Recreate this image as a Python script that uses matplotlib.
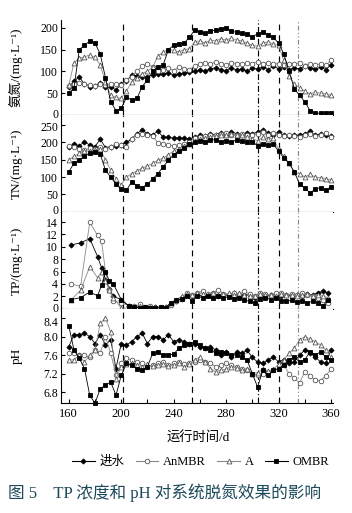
import matplotlib.pyplot as plt
from matplotlib.ticker import MultipleLocator
from matplotlib.lines import Line2D
from matplotlib.transforms import ScaledTranslation

plt.rcParams['font.family'] = ['Liberation Serif', 'Noto Sans CJK SC', 'DejaVu Sans']

# sampling days (every 4 d) for NH4-N, TN and pH
days = list(range(160, 361, 4))

# ammonia nitrogen, mg/L
nh4_inf = [65, 77, 88, 70, 65, 66, 73, 65, 63, 58, 70, 78, 92, 90, 88, 88, 92, 95, 94, 96,
           92, 95, 96, 98, 100, 104, 100, 106, 108, 104, 102, 108, 103, 106, 100, 108, 105, 110, 104, 112,
           106, 110, 104, 108, 106, 112, 108, 105, 110, 104, 115]
nh4_an = [67, 72, 74, 70, 68, 66, 70, 68, 72, 70, 68, 80, 88, 100, 112, 118, 110, 100, 104, 108,
          102, 110, 106, 104, 112, 118, 120, 116, 122, 118, 115, 120, 118, 116, 120, 118, 122, 118, 120, 117,
          118, 114, 118, 116, 120, 112, 118, 115, 117, 114, 125]
nh4_a = [68, 120, 130, 133, 138, 132, 115, 75, 45, 40, 38, 55, 75, 85, 95, 100, 110, 135, 145, 150,
         148, 145, 150, 152, 168, 170, 165, 172, 170, 175, 172, 176, 172, 170, 165, 160, 158, 165, 168, 162,
         160, 125, 90, 72, 62, 55, 48, 52, 50, 48, 45]
nh4_om = [50, 62, 150, 160, 170, 165, 140, 85, 30, 10, 15, 40, 35, 38, 65, 80, 100, 110, 115, 150,
          160, 163, 165, 178, 195, 190, 188, 192, 195, 197, 200, 192, 190, 188, 185, 180, 186, 190, 184, 178,
          165, 140, 100, 60, 45, 30, 10, 4, 4, 5, 4]

# total nitrogen, mg/L
tn_inf = [187, 195, 190, 202, 192, 188, 209, 185, 188, 190, 192, 200, 210, 225, 236, 225, 222, 232, 215, 215,
          212, 213, 212, 210, 215, 220, 218, 225, 222, 228, 220, 230, 225, 222, 228, 225, 230, 235, 228, 222,
          230, 220, 218, 222, 220, 225, 232, 220, 225, 222, 218]
tn_an = [190, 186, 182, 178, 183, 180, 186, 182, 188, 196, 192, 188, 210, 222, 225, 222, 218, 198, 195, 192,
         190, 192, 196, 202, 212, 215, 218, 222, 220, 225, 228, 222, 220, 225, 220, 222, 225, 230, 222, 228,
         220, 218, 222, 218, 215, 222, 225, 218, 220, 228, 215]
tn_a = [150, 160, 168, 175, 175, 178, 180, 150, 120, 95, 78, 100, 110, 118, 126, 132, 140, 148, 155, 165,
        175, 182, 190, 196, 205, 210, 212, 215, 218, 222, 220, 225, 222, 220, 215, 210, 205, 215, 210, 212,
        180, 160, 140, 115, 110, 100, 108, 100, 98, 96, 92]
tn_om = [115, 140, 150, 160, 168, 172, 166, 120, 100, 80, 65, 62, 87, 75, 70, 80, 95, 110, 130, 148,
         165, 175, 185, 195, 200, 205, 200, 206, 208, 202, 205, 200, 208, 204, 200, 202, 190, 195, 192, 195,
         175, 155, 140, 115, 80, 68, 55, 65, 70, 62, 72]

# total phosphorus, mg/L (own sampling days)
tp_days = [162, 169, 176, 182, 185, 188, 191, 194, 200] + list(range(206, 361, 4))
tp_inf = [10.3, 10.6, 11.3, 8.4, 6.6, 4.7, 3.2, 2.0, 1.5,
          0.4, 0.3, 0.3, 0.2, 0.3, 0.3, 0.2, 0.3, 0.8, 1.2, 1.6, 2.2, 2.0, 2.3, 2.0, 2.2,
          2.4, 2.1, 2.3, 2.2, 2.5, 2.0, 2.3, 2.2, 1.8, 2.4, 2.0, 2.3, 2.2, 2.0, 2.3, 2.1,
          2.2, 2.0, 2.4, 2.2, 2.6, 2.8, 2.5]
tp_an = [4.0, 3.6, 13.9, 11.8, 10.9, 6.0, 3.1, 1.2, 1.0,
         0.5, 0.4, 0.7, 0.3, 0.4, 0.2, 0.3, 0.2, 0.6, 1.2, 1.8, 2.5, 2.2, 2.6, 2.8, 2.4,
         2.6, 3.0, 2.4, 2.2, 2.6, 2.3, 2.8, 2.4, 2.0, 2.6, 2.4, 2.2, 2.5, 2.6, 2.3, 2.4,
         2.2, 2.5, 2.3, 2.0, 1.8, 1.5, 1.0]
tp_a = [1.5, 3.0, 6.8, 5.0, 6.0, 4.4, 3.0, 1.8, 0.1,
        0.2, 0.3, 0.4, 0.2, 0.3, 0.3, 0.2, 0.3, 1.0, 1.5, 2.0, 2.4, 2.2, 2.5, 2.4, 2.3,
        2.6, 2.2, 2.4, 2.5, 2.2, 2.6, 2.3, 2.1, 2.0, 2.4, 2.2, 2.3, 2.1, 2.4, 2.2, 2.3,
        2.0, 2.2, 2.4, 2.1, 2.3, 2.0, 1.8]
tp_om = [1.5, 1.8, 2.7, 2.1, 3.8, 5.9, 4.5, 4.0, 1.5,
         0.4, 0.3, 0.2, 0.3, 0.2, 0.2, 0.3, 0.2, 1.0, 1.4, 1.6, 2.0, 1.3, 2.0, 1.8, 2.0,
         1.7, 2.0, 1.8, 1.9, 1.6, 1.8, 1.4, 1.2, 1.0, 1.6, 1.8, 1.5, 1.7, 1.3, 1.2, 1.4,
         1.1, 1.3, 1.0, 1.2, 1.0, 0.5, 1.5]

# pH
ph_inf = [7.78, 8.04, 8.04, 8.07, 8.0, 7.85, 8.04, 7.82, 7.93, 7.31, 7.85, 7.82, 7.89, 8.0, 8.07, 7.85, 8.0,
          8.0, 7.93, 8.04, 7.89, 7.93, 7.89, 7.85, 7.85, 7.78, 7.75, 7.78, 7.71, 7.6, 7.67, 7.56, 7.67, 7.64,
          7.7, 7.55, 7.45, 7.42, 7.49, 7.56, 7.45, 7.5, 7.42, 7.45, 7.6, 7.71, 7.64, 7.56, 7.45, 7.42, 7.71]
ph_an = [7.64, 7.64, 7.6, 7.6, 7.55, 7.71, 7.65, 8.0, 7.64, 7.16, 7.42, 7.53, 7.49, 7.45, 7.42, 7.35, 7.38,
         7.42, 7.45, 7.38, 7.42, 7.45, 7.4, 7.42, 7.45, 7.49, 7.45, 7.42, 7.35, 7.38, 7.42, 7.38, 7.35, 7.3,
         7.28, 7.2, 7.16, 7.2, 7.24, 7.27, 7.31, 7.38, 7.2, 7.1, 7.0, 7.24, 7.15, 7.06, 7.05, 7.15, 7.3]
ph_a = [7.49, 7.5, 7.6, 7.45, 7.6, 7.71, 8.29, 8.4, 8.1, 7.09, 7.35, 7.4, 7.42, 7.38, 7.35, 7.4, 7.36,
        7.38, 7.4, 7.36, 7.38, 7.42, 7.35, 7.4, 7.5, 7.56, 7.45, 7.31, 7.24, 7.27, 7.3, 7.35, 7.32, 7.28,
        7.3, 7.2, 7.22, 7.3, 7.25, 7.3, 7.4, 7.5, 7.64, 7.75, 7.93, 8.0, 7.95, 7.89, 7.82, 7.7, 7.56]
ph_om = [8.23, 7.71, 7.53, 7.31, 6.73, 6.56, 6.87, 6.95, 7.02, 6.73, 7.16, 7.42, 7.38, 7.31, 7.27, 7.35, 7.64,
         7.67, 7.6, 7.6, 7.62, 7.75, 7.82, 7.85, 7.89, 7.82, 7.75, 7.72, 7.64, 7.66, 7.64, 7.6, 7.6, 7.55,
         7.49, 7.2, 6.91, 7.27, 7.16, 7.27, 7.31, 7.38, 7.5, 7.56, 7.45, 7.5, 7.67, 7.6, 7.67, 7.56, 7.49]

labels = ['进水', 'AnMBR', 'A', 'OMBR']
styles = [
    dict(color='black', marker='D', ms=2.6, mfc='black', mec='black'),
    dict(color='#8a8a8a', marker='o', ms=3.3, mfc='white', mec='#555555'),
    dict(color='#8a8a8a', marker='^', ms=3.5, mfc='white', mec='#555555'),
    dict(color='black', marker='s', ms=2.7, mfc='black', mec='black'),
]

panels = [
    (days, [nh4_inf, nh4_an, nh4_a, nh4_om], '氨氮/(mg·L⁻¹)', (0, 218), [0, 50, 100, 150, 200]),
    (days, [tn_inf, tn_an, tn_a, tn_om], 'TN/(mg·L⁻¹)', (0, 279), [0, 50, 100, 150, 200, 250]),
    (tp_days, [tp_inf, tp_an, tp_a, tp_om], 'TP/(mg·L⁻¹)', (0, 15.6), [0, 2, 4, 6, 8, 10, 12, 14]),
    (days, [ph_inf, ph_an, ph_a, ph_om], 'pH', (6.56, 8.6), [6.8, 7.2, 7.6, 8.0, 8.4]),
]
# pixel nudges (bottom label up, top label down) where panels meet
nudges = [(1.5, 0), (2.5, -1.5), (1.0, -0.5), (0, -3.0)]

# vertical stage markers
stages = [(201, (0, (5, 4)), 'black'), (254, (0, (5, 4)), 'black'),
          (304, (0, (5, 2, 1, 2)), 'black'), (320, (0, (5, 4)), 'black'),
          (335, (0, (4, 2, 1, 2, 1, 2)), '#8a8a8a')]

fig = plt.figure(figsize=(3.52, 5.13), dpi=100)
left, right = 0.173, 0.946
bounds = [(0.776, 0.961), (0.587, 0.776), (0.398, 0.587), (0.214, 0.398)]

for k, ((x, series, ylab, ylim, yt), (b, t)) in enumerate(zip(panels, bounds)):
    ax = fig.add_axes([left, b, right - left, t - b])
    for s, st in zip(series, styles):
        ax.plot(x, s, lw=0.6, mew=0.6, clip_on=False, **st)
    for d, ls, c in stages:
        ax.axvline(d, color=c, ls=ls, lw=0.85, zorder=0)
    ax.set_xlim(154, 361.5)
    ax.set_ylim(*ylim)
    ax.set_yticks(yt)
    if k == 3:
        ax.set_yticklabels([f'{v:.1f}' for v in yt])
    ax.spines['top'].set_visible(False)
    ax.spines['right'].set_visible(False)
    for sp in ax.spines.values():
        sp.set_linewidth(0.8)
    ax.tick_params(axis='y', direction='in', length=3, width=0.8, labelsize=8.5, pad=2)
    ax.set_ylabel(ylab, fontsize=9.5)
    ax.yaxis.set_label_coords(-0.14, 0.5)
    yticks = ax.yaxis.get_major_ticks()
    up, down = nudges[k]
    for tk, dy in ((yticks[0], up), (yticks[-1], down)):
        if dy:
            lb = tk.label1
            lb.set_transform(lb.get_transform() + ScaledTranslation(0, dy / 100, fig.dpi_scale_trans))
    if k == 3:
        ax.xaxis.set_major_locator(MultipleLocator(40))
        ax.xaxis.set_minor_locator(MultipleLocator(20))
        ax.tick_params(axis='x', which='both', direction='in', length=3, width=0.8, labelsize=9)
    else:
        ax.tick_params(axis='x', length=0, labelbottom=False)

fig.text(0.563, 1 - 438 / 513, '运行时间/d', ha='center', va='center', fontsize=9.5)

handles = [Line2D([], [], lw=0.8, mew=0.6, **st) for st in styles]
fig.legend(handles, labels, loc='center', bbox_to_anchor=(0.57, 1 - 462 / 513), ncol=4,
           frameon=False, fontsize=9, handlelength=1.8, columnspacing=0.9, handletextpad=0.4)

fig.text(0.022, 1 - 493 / 513, '图 5    TP 浓度和 pH 对系统脱氮效果的影响', ha='left', va='center',
         fontsize=12, color='#1d4a5a')

fig.savefig('out.png', dpi=100)
